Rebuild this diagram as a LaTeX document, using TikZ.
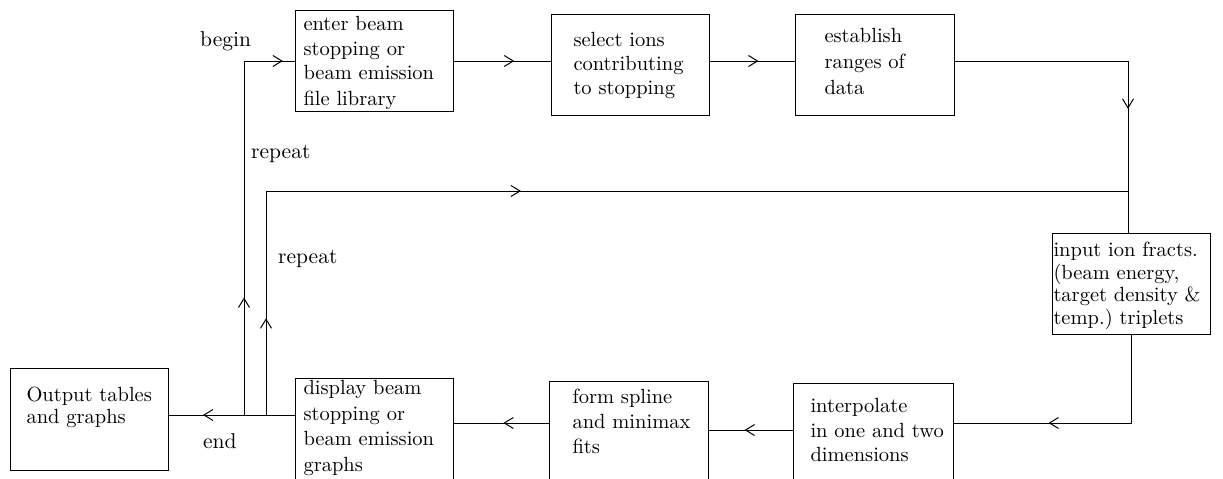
\documentclass[tikz,border=0pt]{standalone}
\usepackage{fontspec}
\usetikzlibrary{arrows.meta,decorations.markings}

\newfontfamily\cmten{lmroman10-regular.otf}
\newcommand{\boxfont}{\cmten\fontsize{20.5}{25}\selectfont\frenchspacing}

\tikzset{
  box/.style={draw,line width=1pt,anchor=north west,align=left,
              inner xsep=0pt,inner ysep=0pt,font=\boxfont},
  pad/.style={execute at begin node={\leftskip=#1\rightskip=0pt plus 2em minus 3cm}},
  skip/.style={execute at begin node={\baselineskip=#1}},
  lbl/.style={font=\cmten\fontsize{21.5}{24}\selectfont,inner sep=0pt,anchor=base west},
  flow/.style={line width=1pt},
  tipat/.style={postaction={decorate,decoration={markings,
      mark=at position #1 with {\arrow{Straight Barb[length=9pt,width=11pt]}}}}}
}

\begin{document}
\begin{tikzpicture}[x=1pt,y=-1pt]
\useasboundingbox (0,0) rectangle (1223,479);
\clip (0,0) rectangle (1223,479);

% boxes, top row first, then the input box and the bottom row
\node[box,pad=8pt,skip=25pt,text width=158pt,text height=19.5pt,text depth=81.5pt] (enter) at (295,10)
  {enter beam\\stopping or\\beam emission\\file library};
\node[box,pad=22pt,skip=24pt,text width=158pt,text height=31.5pt,text depth=69.5pt] (select) at (551,14)
  {select ions\\contributing\\to stopping};
\node[box,pad=29pt,skip=26pt,text width=159pt,text height=28.4pt,text depth=72.6pt] (establish) at (795,14)
  {establish\\ranges of\\data};
\node[box,pad=1pt,skip=22.5pt,text width=158pt,text height=23.4pt,text depth=77.6pt] (input) at (1052,233)
  {input ion fracts.\\(beam energy,\\target density \&\\temp.) triplets};
\node[box,pad=17pt,skip=24.5pt,text width=160pt,text height=29.4pt,text depth=120pt] (interp) at (793,383)
  {interpolate\\in one and two\\dimensions};
\node[box,pad=23pt,skip=25pt,text width=159pt,text height=22.4pt,text depth=120pt] (form) at (549,381)
  {form spline\\and minimax\\fits};
\node[box,pad=8pt,skip=25.5pt,text width=158pt,text height=16.4pt,text depth=120pt] (display) at (295,378)
  {display beam\\stopping or\\beam emission\\graphs};
\node[box,pad=16pt,skip=22.5pt,text width=158pt,text height=32.7pt,text depth=69.3pt] (out) at (10,368)
  {Output tables\\and graphs};

% junctions and bends
\coordinate (jEnd) at (244,415);
\coordinate (jRep) at (266,415);
\coordinate (cTop) at (1128,0);
\coordinate (cRep) at (1128,191);
\coordinate (yLow) at (0,423);
\coordinate (yMid) at (0,430);

\draw[flow,tipat=0.29,tipat=0.97] (jEnd) -- (jEnd |- enter.west) -- (enter.west);
\draw[flow,tipat=0.62] (enter.east) -- (enter.east -| select.west);
\draw[flow,tipat=0.57] (enter.east -| select.east) -- (enter.east -| establish.west);
\draw[flow,tipat=0.64] (enter.east -| establish.east) -| (cTop |- input.north);
\draw[flow,tipat=0.089,tipat=0.441] (jRep) |- (cRep);
\draw[flow,tipat=0.644] (input.south) |- (interp.east |- yLow);
\draw[flow,tipat=0.576] (interp.west |- yMid) -- (form.east |- yMid);
\draw[flow,tipat=0.48] (form.west |- yLow) -- (display.east |- yLow);
\draw[flow,tipat=0.73] (display.west |- jRep) -- (out.east |- jRep);

\node[lbl] (lbegin) at (200,46) {begin};
\node[lbl] (lrep1) at (251,158) {repeat};
\node[lbl] (lrep2) at (278,263) {repeat};
\node[lbl] (lend) at (203,448) {end};
\end{tikzpicture}
\end{document}
